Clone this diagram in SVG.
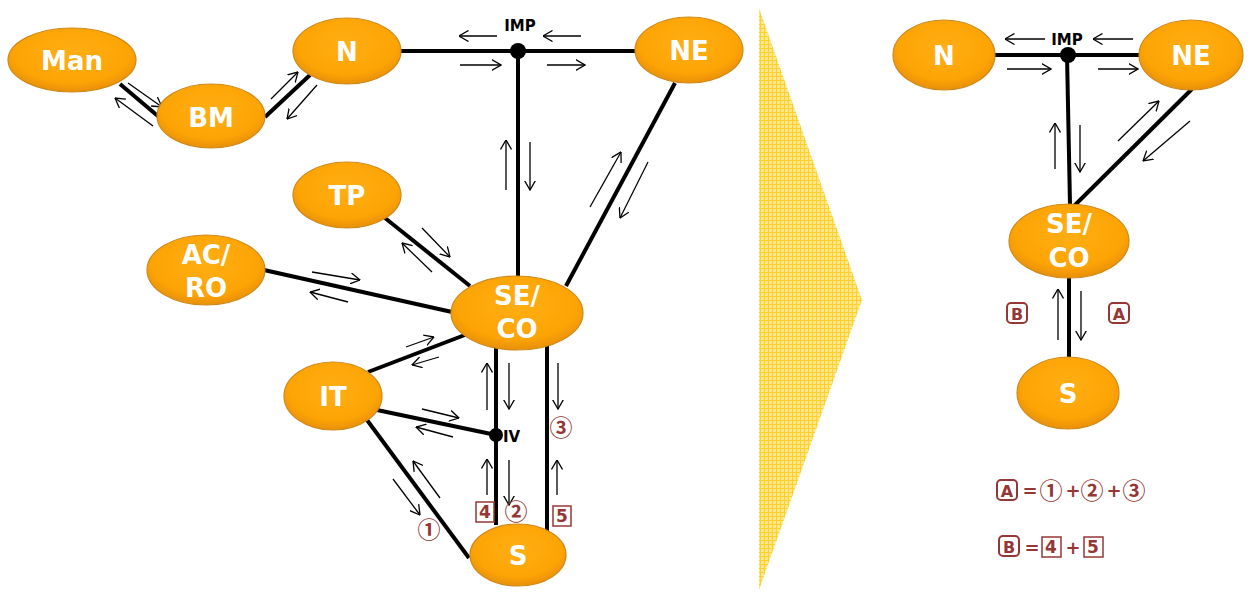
<svg xmlns="http://www.w3.org/2000/svg" width="1250" height="592" viewBox="0 0 1250 592">
<style>
.nd{fill:url(#og);stroke:#D08A1A;stroke-width:1.2}
.nt{font-family:"DejaVu Sans",Verdana,sans-serif;font-weight:bold;font-size:26px;fill:#fff;text-anchor:middle}
.th{stroke:#000;stroke-width:4;fill:none}
.ar{stroke:#000;stroke-width:1.3;fill:none;marker-end:url(#ah)}
.jl{font-family:"DejaVu Sans",Verdana,sans-serif;font-weight:bold;font-size:15px;fill:#000}
.rd{font-family:"DejaVu Sans",sans-serif;font-weight:bold;fill:#953735;text-anchor:middle}
.cd{font-family:"Noto Sans CJK JP","Noto Sans CJK SC",sans-serif;font-weight:bold;font-size:23px;fill:#953735;text-anchor:middle}
.bx{fill:#fff;stroke:#953735;stroke-width:1.5}
.rb{fill:#fff;stroke:#953735;stroke-width:2}
</style>
<defs>
<radialGradient id="og" cx="50%" cy="40%" r="60%">
<stop offset="0" stop-color="#FFAE14"/>
<stop offset="0.75" stop-color="#FDA405"/>
<stop offset="1" stop-color="#E8900A"/>
</radialGradient>
<pattern id="grid" width="4" height="4" patternUnits="userSpaceOnUse">
<rect width="4" height="4" fill="#FFE88A"/>
<path d="M0,0.5 H4 M0.5,0 V4" stroke="#FFCF2E" stroke-width="1"/>
</pattern>
<marker id="ah" viewBox="0 0 10 12" refX="9.5" refY="6" markerWidth="10" markerHeight="12" markerUnits="userSpaceOnUse" orient="auto">
<path d="M0,0.5 L9.5,6 L0,11.5" fill="none" stroke="#000" stroke-width="1.3"/>
</marker>
</defs>
<rect width="1250" height="592" fill="#fff"/>
<polygon id="divider" points="759,8 862,300 759,590" fill="url(#grid)"/>

<g id="connectors">
<line class="th" x1="120" y1="84" x2="159" y2="117"/>
<line class="th" x1="265" y1="117" x2="310" y2="75"/>
<line class="th" x1="400" y1="51" x2="636" y2="51"/>
<line class="th" x1="518" y1="51" x2="518" y2="278"/>
<line class="th" x1="675" y1="83" x2="566" y2="286"/>
<line class="th" x1="385" y1="218" x2="470" y2="286"/>
<line class="th" x1="264" y1="270" x2="452" y2="312"/>
<line class="th" x1="368" y1="372" x2="470" y2="333"/>
<line class="th" x1="377" y1="410" x2="496" y2="435"/>
<line class="th" x1="367" y1="420" x2="469" y2="558"/>
<line class="th" x1="496" y1="343" x2="496" y2="525"/>
<line class="th" x1="547" y1="343" x2="547" y2="535"/>
<line class="th" x1="994" y1="55" x2="1140" y2="55"/>
<line class="th" x1="1067" y1="55" x2="1070" y2="205"/>
<line class="th" x1="1192" y1="89" x2="1074" y2="206"/>
<line class="th" x1="1069" y1="277" x2="1069" y2="357"/>

<line class="ar" x1="128" y1="83" x2="162" y2="107"/>
<line class="ar" x1="153" y1="126" x2="115" y2="98"/>
<line class="ar" x1="271" y1="99" x2="298" y2="72"/>
<line class="ar" x1="317" y1="85" x2="287" y2="119"/>
<line class="ar" x1="497" y1="36" x2="459" y2="36"/>
<line class="ar" x1="581" y1="36" x2="543" y2="36"/>
<line class="ar" x1="460" y1="65" x2="501" y2="65"/>
<line class="ar" x1="547" y1="65" x2="585" y2="65"/>
<line class="ar" x1="506" y1="190" x2="506" y2="140"/>
<line class="ar" x1="530" y1="142" x2="530" y2="190"/>
<line class="ar" x1="590" y1="207" x2="621" y2="152"/>
<line class="ar" x1="648" y1="162" x2="620" y2="218"/>
<line class="ar" x1="422" y1="228" x2="450" y2="257"/>
<line class="ar" x1="432" y1="272" x2="402" y2="243"/>
<line class="ar" x1="312" y1="272" x2="360" y2="280"/>
<line class="ar" x1="348" y1="302" x2="310" y2="292"/>
<line class="ar" x1="406" y1="347" x2="434" y2="337"/>
<line class="ar" x1="439" y1="357" x2="412" y2="365"/>
<line class="ar" x1="422" y1="409" x2="459" y2="418"/>
<line class="ar" x1="453" y1="437" x2="416" y2="427"/>
<line class="ar" x1="393" y1="479" x2="420" y2="515"/>
<line class="ar" x1="440" y1="498" x2="413" y2="461"/>
<line class="ar" x1="487" y1="410" x2="487" y2="363"/>
<line class="ar" x1="509" y1="363" x2="509" y2="409"/>
<line class="ar" x1="487" y1="495" x2="487" y2="459"/>
<line class="ar" x1="509" y1="460" x2="509" y2="505"/>
<line class="ar" x1="558" y1="363" x2="558" y2="409"/>
<line class="ar" x1="557" y1="495" x2="557" y2="460"/>

<line class="ar" x1="1045" y1="39" x2="1005" y2="39"/>
<line class="ar" x1="1133" y1="39" x2="1093" y2="39"/>
<line class="ar" x1="1007" y1="69" x2="1051" y2="69"/>
<line class="ar" x1="1098" y1="69" x2="1138" y2="69"/>
<line class="ar" x1="1055" y1="169" x2="1055" y2="123"/>
<line class="ar" x1="1080" y1="125" x2="1080" y2="172"/>
<line class="ar" x1="1118" y1="141" x2="1159" y2="101"/>
<line class="ar" x1="1190" y1="121" x2="1143" y2="161"/>
<line class="ar" x1="1058" y1="340" x2="1058" y2="289"/>
<line class="ar" x1="1081" y1="291" x2="1081" y2="340"/>
</g>

<g id="junction-imp"><circle cx="518" cy="51" r="8"/><text class="jl" x="520" y="31" text-anchor="middle">IMP</text></g>
<g id="junction-iv"><circle cx="496" cy="435" r="7"/><text class="jl" x="503" y="442">IV</text></g>
<g id="junction-imp-r"><circle cx="1068" cy="55" r="8"/><text class="jl" x="1067" y="45" text-anchor="middle">IMP</text></g>

<g id="node-man"><ellipse class="nd" cx="72" cy="60" rx="64" ry="32"/><text class="nt" x="72" y="70">Man</text></g>
<g id="node-bm"><ellipse class="nd" cx="211" cy="116" rx="54" ry="32"/><text class="nt" x="211" y="127">BM</text></g>
<g id="node-n"><ellipse class="nd" cx="347" cy="51" rx="54" ry="33"/><text class="nt" x="347" y="61">N</text></g>
<g id="node-ne"><ellipse class="nd" cx="689" cy="50" rx="54" ry="33"/><text class="nt" x="689" y="60">NE</text></g>
<g id="node-tp"><ellipse class="nd" cx="347" cy="195" rx="54" ry="33"/><text class="nt" x="347" y="205">TP</text></g>
<g id="node-acro"><ellipse class="nd" cx="206" cy="270" rx="59" ry="35"/><text class="nt" x="206" y="264">AC/</text><text class="nt" x="206" y="297">RO</text></g>
<g id="node-seco"><ellipse class="nd" cx="517" cy="313" rx="66" ry="37"/><text class="nt" x="517" y="305">SE/</text><text class="nt" x="517" y="338">CO</text></g>
<g id="node-it"><ellipse class="nd" cx="333" cy="396" rx="49" ry="34"/><text class="nt" x="333" y="406">IT</text></g>
<g id="node-s"><ellipse class="nd" cx="518" cy="555" rx="48" ry="31"/><text class="nt" x="518" y="565">S</text></g>

<g id="node-n-r"><ellipse class="nd" cx="944" cy="55" rx="51" ry="35"/><text class="nt" x="944" y="65">N</text></g>
<g id="node-ne-r"><ellipse class="nd" cx="1191" cy="55" rx="52" ry="35"/><text class="nt" x="1191" y="65">NE</text></g>
<g id="node-seco-r"><ellipse class="nd" cx="1069" cy="241" rx="60" ry="37"/><text class="nt" x="1069" y="233">SE/</text><text class="nt" x="1069" y="267">CO</text></g>
<g id="node-s-r"><ellipse class="nd" cx="1068" cy="393" rx="51" ry="36"/><text class="nt" x="1068" y="403">S</text></g>

<g id="labels">
<text class="cd" x="429" y="538">①</text>
<text class="cd" x="516" y="520">②</text>
<text class="cd" x="561" y="436">③</text>
<rect class="bx" x="476" y="502" width="18" height="20"/><text class="rd" x="485" y="518" font-size="17">4</text>
<rect class="bx" x="553" y="506" width="18" height="20"/><text class="rd" x="562" y="522" font-size="17">5</text>

<rect class="rb" x="1007" y="303" width="20" height="20" rx="4"/><text class="rd" x="1017" y="320" font-size="16">B</text>
<rect class="rb" x="1109" y="303" width="20" height="20" rx="4"/><text class="rd" x="1119" y="320" font-size="16">A</text>

<rect class="rb" x="997" y="480" width="20" height="20" rx="4"/><text class="rd" x="1007" y="497" font-size="16">A</text>
<text class="rd" x="1030" y="497" font-size="18">=</text>
<text class="cd" x="1051" y="499">①</text>
<text class="rd" x="1073" y="497" font-size="18">+</text>
<text class="cd" x="1092" y="499">②</text>
<text class="rd" x="1114" y="497" font-size="18">+</text>
<text class="cd" x="1134" y="499">③</text>

<rect class="rb" x="999" y="536" width="20" height="20" rx="4"/><text class="rd" x="1009" y="553" font-size="16">B</text>
<text class="rd" x="1032" y="554" font-size="18">=</text>
<rect class="bx" x="1042" y="537" width="19" height="20"/><text class="rd" x="1051" y="553" font-size="17">4</text>
<text class="rd" x="1073" y="554" font-size="18">+</text>
<rect class="bx" x="1084" y="537" width="19" height="20"/><text class="rd" x="1093" y="553" font-size="17">5</text>
</g>
</svg>
